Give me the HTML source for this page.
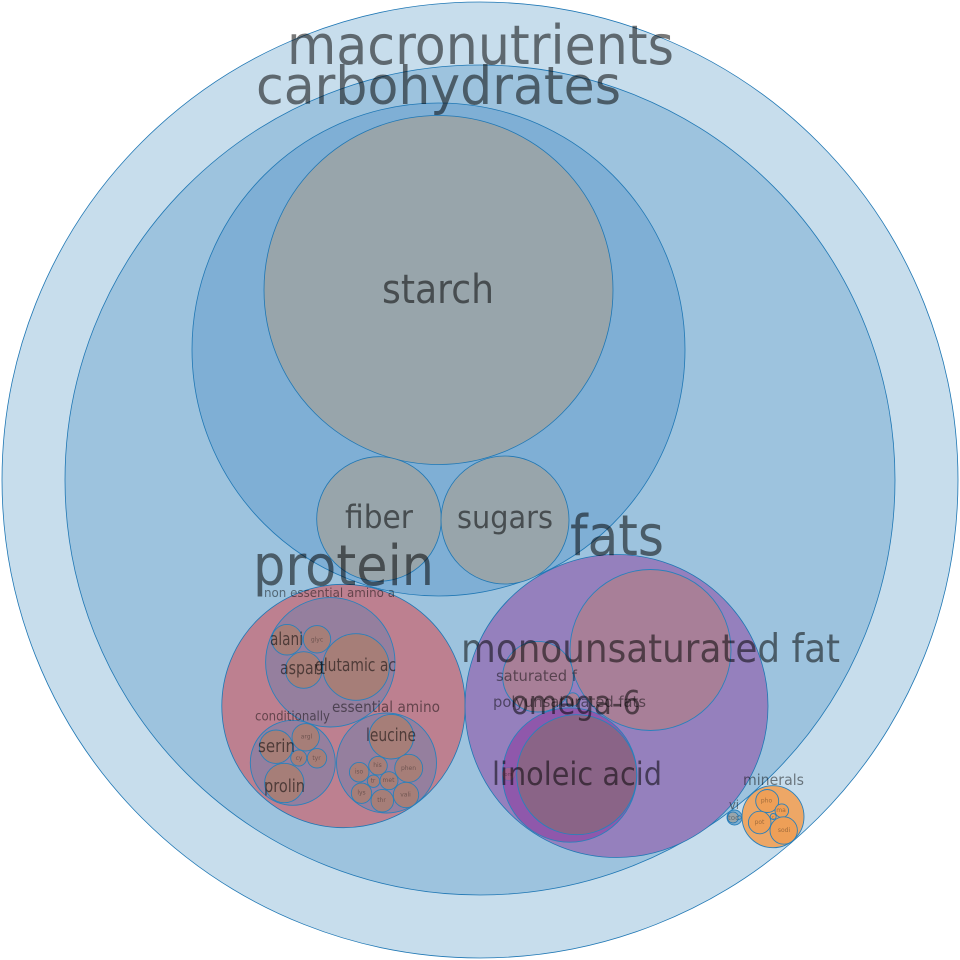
<!DOCTYPE html>
<html>
<head>
<meta charset="utf-8">
<style>
html,body{margin:0;padding:0;background:#fff;width:960px;height:960px;overflow:hidden}
svg{display:block}
circle{stroke:#1f77b4;stroke-width:.8}
.i{stroke:#2a80bb;stroke-width:.9}
text{font-family:"DejaVu Sans",sans-serif;fill:#000;fill-opacity:.53}
.t{fill-opacity:.34}
.m{fill-opacity:.48}
</style>
</head>
<body>
<svg width="960" height="960" viewBox="0 0 960 960" xmlns="http://www.w3.org/2000/svg">
<circle cx="480" cy="480" r="478" fill="#c7ddec"/>
<circle cx="480" cy="480" r="415" fill="#9dc3de"/>
<circle cx="438.5" cy="349.5" r="246.5" fill="#7fafd5"/>
<circle cx="438.5" cy="290" r="174.5" fill="#98a5ab"/>
<circle cx="379" cy="519" r="62.3" fill="#98a5ab"/>
<circle cx="505" cy="520" r="64" fill="#98a5ab"/>

<circle cx="343.5" cy="706" r="121.7" fill="#bd8090"/>
<circle cx="330.3" cy="662.3" r="64.7" fill="#957f9e" class="i"/>
<circle cx="287" cy="639.7" r="15.3" fill="#a67e78" class="i"/>
<circle cx="317" cy="639.3" r="13.7" fill="#a67e78" class="i"/>
<circle cx="303.7" cy="670" r="18.3" fill="#a67e78" class="i"/>
<circle cx="356" cy="667" r="33.3" fill="#a67e78" class="i"/>
<circle cx="292.8" cy="762.8" r="42.5" fill="#957f9e" class="i"/>
<circle cx="276" cy="746.7" r="16.7" fill="#a67e78" class="i"/>
<circle cx="305.7" cy="737.3" r="13.7" fill="#a67e78" class="i"/>
<circle cx="298.7" cy="758" r="8" fill="#a67e78" class="i"/>
<circle cx="317" cy="758.3" r="9.7" fill="#a67e78" class="i"/>
<circle cx="284.3" cy="783" r="19.7" fill="#a67e78" class="i"/>
<circle cx="386.5" cy="763" r="50" fill="#957f9e" class="i"/>
<circle cx="391.3" cy="736.7" r="22.3" fill="#a67e78" class="i"/>
<circle cx="359.2" cy="772.2" r="9.8" fill="#a67e78" class="i"/>
<circle cx="378" cy="765.7" r="9.3" fill="#a67e78" class="i"/>
<circle cx="408.7" cy="768.3" r="14" fill="#a67e78" class="i"/>
<circle cx="373.5" cy="781.2" r="6.2" fill="#a67e78" class="i"/>
<circle cx="389" cy="780.7" r="9" fill="#a67e78" class="i"/>
<circle cx="361.5" cy="793.2" r="10.2" fill="#a67e78" class="i"/>
<circle cx="382.3" cy="800.7" r="11.3" fill="#a67e78" class="i"/>
<circle cx="406" cy="795" r="12.7" fill="#a67e78" class="i"/>

<circle cx="616.5" cy="706" r="151.5" fill="#9580bd"/>
<circle cx="650.5" cy="650" r="80.5" fill="#a87f98" class="i"/>
<circle cx="538" cy="676.7" r="35.3" fill="#a87f98" class="i"/>
<circle cx="572.7" cy="699.5" r="6.7" fill="#a87f98" class="i"/>
<circle cx="569.7" cy="775" r="67.2" fill="#8f58ab" class="i"/>
<circle cx="508.7" cy="774" r="6.5" fill="#a0608f" stroke-opacity=".3"/>
<circle cx="576.7" cy="774.7" r="60" fill="#8a6487" class="i"/>

<circle cx="773" cy="816.7" r="31" fill="#eda766" class="i"/>
<circle cx="767.2" cy="801" r="11.5" fill="#ee9f57" class="i"/>
<circle cx="781.8" cy="810.7" r="6.8" fill="#ee9f57" class="i"/>
<circle cx="773.2" cy="816.5" r="3" fill="#ee9f57" class="i"/>
<circle cx="759.7" cy="822.5" r="11.3" fill="#ee9f57" class="i"/>
<circle cx="783.7" cy="830.5" r="13.7" fill="#ee9f57" class="i"/>
<circle cx="734.5" cy="817.5" r="7.5" fill="#7eaed0" class="i"/>
<circle cx="733" cy="817.5" r="5.5" fill="#98a5ab" stroke-width=".5"/>
<circle cx="739.5" cy="817.5" r="1.8" fill="#98a5ab" stroke-width=".5"/>

<text x="287" y="64" font-size="54" textLength="387" lengthAdjust="spacingAndGlyphs">macronutrients</text>
<text x="256" y="104" font-size="53" textLength="365" lengthAdjust="spacingAndGlyphs">carbohydrates</text>
<text x="382" y="303" font-size="40" textLength="112" lengthAdjust="spacingAndGlyphs">starch</text>
<text x="345" y="528" font-size="32" textLength="68" lengthAdjust="spacingAndGlyphs">fiber</text>
<text x="457" y="528" font-size="31" textLength="96" lengthAdjust="spacingAndGlyphs">sugars</text>
<text x="253" y="585" font-size="56" textLength="181" lengthAdjust="spacingAndGlyphs">protein</text>
<text x="570" y="555" font-size="56" textLength="94" lengthAdjust="spacingAndGlyphs">fats</text>
<text x="461" y="662" font-size="39" textLength="379" lengthAdjust="spacingAndGlyphs">monounsaturated fat</text>
<text x="496" y="681" font-size="15" textLength="81" lengthAdjust="spacingAndGlyphs" class="m">saturated f</text>
<text x="493" y="707" font-size="15.5" textLength="153" lengthAdjust="spacingAndGlyphs" class="m">polyunsaturated fats</text>
<text x="511" y="714" font-size="33" textLength="130" lengthAdjust="spacingAndGlyphs">omega-6</text>
<text x="492" y="785" font-size="32" textLength="170" lengthAdjust="spacingAndGlyphs">linoleic acid</text>
<text x="743" y="785" font-size="15" textLength="61" lengthAdjust="spacingAndGlyphs" class="m">minerals</text>
<text x="729" y="809" font-size="12" textLength="10" lengthAdjust="spacingAndGlyphs" class="m">vi</text>
<text x="728" y="820" font-size="7" textLength="11" lengthAdjust="spacingAndGlyphs" class="t">toc</text>

<text x="264" y="597" font-size="12.5" textLength="131" lengthAdjust="spacingAndGlyphs" class="m">non essential amino a</text>
<text x="332" y="712" font-size="15.5" textLength="108" lengthAdjust="spacingAndGlyphs" class="m">essential amino</text>
<text x="255" y="720.5" font-size="13" textLength="75" lengthAdjust="spacingAndGlyphs" class="m">conditionally</text>
<text x="270" y="645" font-size="18" textLength="33" lengthAdjust="spacingAndGlyphs">alani</text>
<text x="280" y="674" font-size="18" textLength="45" lengthAdjust="spacingAndGlyphs">aspart</text>
<text x="315" y="671" font-size="18" textLength="81" lengthAdjust="spacingAndGlyphs">glutamic ac</text>
<text x="258" y="752" font-size="18" textLength="37" lengthAdjust="spacingAndGlyphs">serin</text>
<text x="264" y="792" font-size="18" textLength="41" lengthAdjust="spacingAndGlyphs">prolin</text>
<text x="366" y="741" font-size="18" textLength="50" lengthAdjust="spacingAndGlyphs">leucine</text>

<g font-size="6" text-anchor="middle">
<text class="t" x="317" y="641.5">glyc</text>
<text class="t" x="306.5" y="738.5">argl</text>
<text class="t" x="299" y="760">cy</text>
<text class="t" x="316.5" y="760">tyr</text>
<text class="t" x="359" y="773.5">iso</text>
<text class="t" x="377.5" y="767">his</text>
<text class="t" x="408.5" y="770">phen</text>
<text class="t" x="373" y="782.5">tr</text>
<text class="t" x="388.5" y="782">met</text>
<text class="t" x="361.5" y="794.5">lys</text>
<text class="t" x="381.5" y="802">thr</text>
<text class="t" x="405.5" y="796.5">vali</text>
<text class="t" x="766.5" y="802.5">pho</text>
<text class="t" x="781" y="812">ma</text>
<text class="t" x="773" y="818.5" font-size="4">c</text>
<text class="t" x="759.5" y="824">pot</text>
<text class="t" x="784" y="832">sodi</text>
<text class="t" x="508.5" y="776" font-size="5">om</text>
</g>
</svg>
</body>
</html>
